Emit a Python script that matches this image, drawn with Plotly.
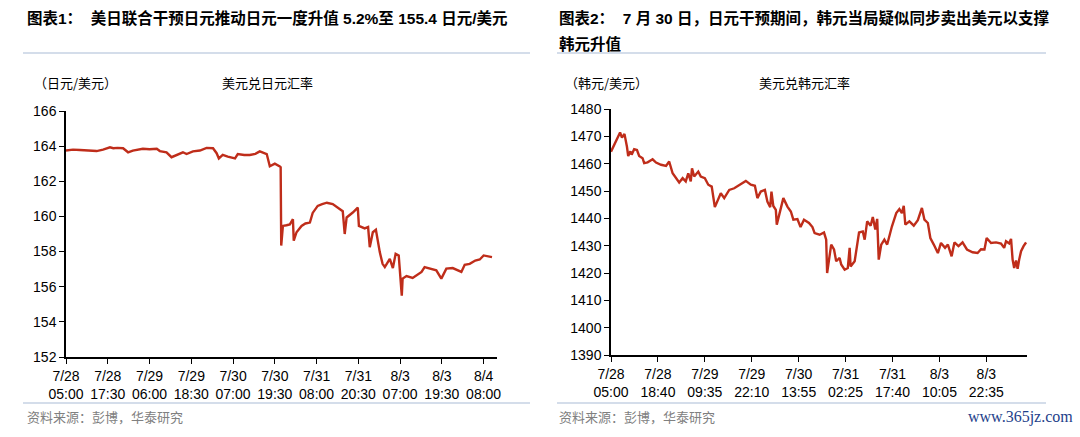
import plotly.graph_objects as go

# USD/JPY, 5-min bar index (150 bars per tick label) and level
jpy_obs = [0, 25, 50, 80, 110, 133, 158, 170, 185, 205, 223, 240, 260, 276, 300, 326, 337, 361,
           379, 397, 420, 433, 456, 481, 495, 505, 528, 541, 549, 563, 581, 607, 617, 640, 660,
           680, 696, 714, 721, 732, 750, 768, 771, 773, 779, 792, 804, 815, 818, 828, 846, 860,
           876, 886, 904, 920, 937, 958, 983, 994, 1001, 1008, 1030, 1043, 1048, 1052, 1073,
           1085, 1091, 1102, 1113, 1127, 1137, 1145, 1163, 1174, 1184, 1195, 1206, 1209, 1223,
           1245, 1277, 1288, 1317, 1330, 1348, 1366, 1389, 1420, 1432, 1450, 1470, 1486, 1500,
           1522, 1530, 1540]
jpy_val = [163.75, 163.8, 163.78, 163.74, 163.72, 163.8, 163.93, 163.88, 163.9, 163.88, 163.65,
           163.75, 163.82, 163.85, 163.82, 163.85, 163.72, 163.65, 163.37, 163.5, 163.65, 163.55,
           163.7, 163.75, 163.82, 163.9, 163.88, 163.6, 163.3, 163.5, 163.4, 163.3, 163.55, 163.5,
           163.5, 163.56, 163.7, 163.6, 163.55, 162.85, 163.0, 162.85, 162.8, 158.34, 159.46,
           159.5, 159.55, 159.84, 158.62, 159.1, 159.46, 159.6, 159.65, 160.2, 160.6, 160.7,
           160.78, 160.7, 160.4, 160.3, 159.0, 159.94, 160.22, 160.46, 160.5, 159.46, 159.32,
           159.4, 158.25, 159.1, 159.24, 157.97, 157.3, 157.12, 157.59, 157.06, 157.87, 157.78,
           155.49, 156.46, 156.61, 156.5, 156.84, 157.12, 157.0, 156.93, 156.46, 157.03, 157.06,
           156.84, 157.25, 157.3, 157.49, 157.55, 157.78, 157.72, 157.68]
jpy_ticks = ["7/28<br>05:00", "7/28<br>17:30", "7/29<br>06:00", "7/29<br>18:30", "7/30<br>07:00",
             "7/30<br>19:30", "7/31<br>08:00", "7/31<br>20:30", "8/3<br>07:00", "8/3<br>19:30",
             "8/4<br>08:00"]

# USD/KRW, bar index (150 bars per tick label) and level
krw_obs = [0, 21, 29, 35, 43, 51, 55, 62, 66, 74, 83, 90, 101, 106, 117, 133, 144, 160, 176, 186,
           197, 218, 229, 239, 247, 255, 259, 266, 279, 287, 300, 311, 322, 332, 343, 351, 362,
           378, 394, 410, 431, 447, 460, 468, 479, 492, 500, 509, 513, 519, 527, 530, 537, 551,
           564, 575, 583, 596, 606, 617, 633, 644,
           651, 667, 681, 688, 691, 699, 704, 713, 720, 731, 736, 747, 757, 763, 766, 779, 784,
           793, 805, 811, 819, 830, 837, 845, 851, 856, 864, 874, 883, 890, 898, 912, 922, 930,
           936, 941, 954, 968, 981, 994, 1002, 1013, 1021, 1032, 1045, 1055, 1068, 1077, 1089,
           1098, 1111, 1124, 1138, 1156, 1172, 1183, 1194, 1201, 1215, 1231, 1247, 1257, 1263,
           1273, 1279, 1284, 1289, 1295, 1300, 1305, 1311, 1319, 1327]
krw_val = [1464.4, 1469.9, 1471.4, 1469.5, 1470.9, 1466.2, 1462.8, 1464.5, 1463.3, 1465.3, 1465.0,
           1462.8, 1462.0, 1460.2, 1460.5, 1461.6, 1460.4, 1459.6, 1459.2, 1460.8, 1456.5, 1453.1,
           1454.7, 1453.5, 1456.5, 1453.5, 1458.3, 1455.3, 1457.1, 1455.3, 1454.7, 1452.3, 1451.6,
           1444.1, 1446.8, 1449.2, 1447.4, 1450.4, 1451.0, 1452.3, 1453.7, 1452.3, 1451.9, 1447.4,
           1449.8, 1450.4, 1446.1, 1444.1, 1449.8, 1444.5, 1443.1, 1437.7, 1441.3, 1447.4, 1444.3,
           1442.5, 1439.5, 1439.7, 1436.8, 1439.5, 1438.3, 1436.8,
           1434.6, 1434.0, 1434.8, 1432.2, 1420.0, 1426.1, 1430.4, 1428.6, 1424.3, 1425.5, 1423.1,
           1421.2, 1421.8, 1429.2, 1422.4, 1424.3, 1428.0, 1434.8, 1435.2, 1432.2, 1438.9, 1437.3,
           1440.5, 1435.9, 1439.8, 1424.9, 1430.4, 1432.2, 1430.4, 1433.4, 1437.0, 1441.9, 1443.4,
           1441.9, 1444.6, 1437.7, 1438.9, 1437.3, 1439.3, 1443.8, 1439.5, 1438.3, 1432.8, 1430.4,
           1427.3, 1431.0, 1429.2, 1430.4, 1426.1, 1431.2, 1429.8, 1431.2, 1428.6, 1427.6, 1427.3,
           1428.7, 1428.6, 1432.8, 1431.0, 1431.2, 1430.8, 1429.2, 1431.6, 1430.8, 1432.5, 1424.9,
           1421.8, 1424.6, 1421.5, 1424.9, 1428.0, 1429.8, 1431.2]
krw_ticks = ["7/28<br>05:00", "7/28<br>18:40", "7/29<br>09:35", "7/29<br>22:10", "7/30<br>13:55",
             "7/31<br>02:25", "7/31<br>17:40", "8/3<br>10:05", "8/3<br>22:35"]

RED = "#BF2D1A"
LATIN = "Liberation Sans, Arial, Noto Sans CJK SC"
CJK = "Noto Sans CJK SC"

fig = go.Figure()
fig.add_trace(go.Scatter(x=jpy_obs, y=jpy_val, mode="lines", line=dict(color=RED, width=2.4),
                         xaxis="x", yaxis="y", showlegend=False))
fig.add_trace(go.Scatter(x=krw_obs, y=krw_val, mode="lines", line=dict(color=RED, width=2.4),
                         xaxis="x2", yaxis="y2", showlegend=False))

ax = dict(showgrid=False, zeroline=False, showline=True, linecolor="black", linewidth=1.5,
          ticks="outside", ticklen=5, tickwidth=1.2, tickcolor="black", automargin=False,
          tickfont=dict(family=LATIN, size=14, color="black"))

fig.update_layout(
    width=1080, height=437, margin=dict(l=0, r=0, t=0, b=0, pad=0, autoexpand=False),
    paper_bgcolor="white", plot_bgcolor="white", showlegend=False,
    xaxis=dict(ax, domain=[66/1080, 497/1080], range=[0, 1548],
               tickvals=[i*150 for i in range(len(jpy_ticks))], ticktext=jpy_ticks, anchor="y"),
    yaxis=dict(ax, domain=[80/437, 326/437], range=[152, 166], dtick=2, anchor="x"),
    xaxis2=dict(ax, domain=[611/1080, 1027/1080], range=[0, 1330],
                tickvals=[i*150 for i in range(len(krw_ticks))], ticktext=krw_ticks, anchor="y2"),
    yaxis2=dict(ax, domain=[82/437, 328/437], range=[1390, 1480], dtick=10, anchor="x2"),
)

def note(x, y, text, size=13, color="black", family=CJK, xanchor="left"):
    fig.add_annotation(x=x/1080, y=1-y/437, xref="paper", yref="paper", text=text,
                       showarrow=False, xanchor=xanchor, yanchor="middle",
                       font=dict(family=family, size=size, color=color))

note(25, 18, "<b>图表1：  美日联合干预日元推动日元一度升值 5.2%至 155.4 日元/美元</b>", size=15.5, family=LATIN)
note(557, 18, "<b>图表2：  7 月 30 日，日元干预期间，韩元当局疑似同步卖出美元以支撑</b>", size=15.5, family=LATIN)
note(557, 44, "<b>韩元升值</b>", size=15.5, family=LATIN)

note(32, 82, "（日元/美元）")
note(220, 82, "美元兑日元汇率")
note(563, 82, "（韩元/美元）")
note(757, 82, "美元兑韩元汇率")

note(25, 416, "资料来源：彭博，华泰研究", color="#808080")
note(557, 416, "资料来源：彭博，华泰研究", color="#808080")
note(1075, 417, "www.365jz.com", size=16, color="#1E3F8A", family="Liberation Serif", xanchor="right")

for x0, x1 in [(23, 530), (557, 1046)]:
    for yy in [53, 403]:
        fig.add_shape(type="line", xref="paper", yref="paper", x0=x0/1080, x1=x1/1080,
                      y0=1-yy/437, y1=1-yy/437, line=dict(color="#A9BCD6", width=1.2))

fig.write_html("out.html", config={"displayModeBar": False},
               post_script="document.body.style.margin='0';")
